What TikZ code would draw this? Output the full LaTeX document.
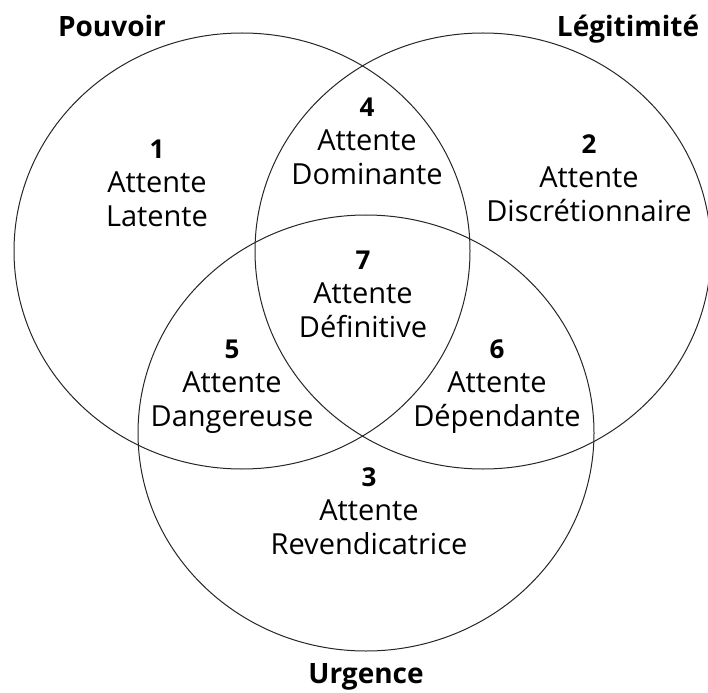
\documentclass[tikz,border=0pt]{standalone}
\usepackage{fontspec}
\setmainfont{Open Sans}
\usetikzlibrary{shapes.geometric}
\begin{document}
\begin{tikzpicture}[x=1pt,y=-1pt,
  set/.style={draw=black!85, line width=1pt, ellipse, inner sep=0pt,
    minimum width=456pt, minimum height=436pt},
  region/.style={anchor=base, align=center, inner sep=0pt,
    font=\fontsize{29}{34}\selectfont},
  setlabel/.style={anchor=base, inner sep=0pt,
    font=\fontsize{28}{34}\selectfont\bfseries},
]
\newcommand{\num}[1]{{\fontsize{26}{34}\selectfont\bfseries #1}}
\useasboundingbox (0,0) rectangle (708,692);
\node[set] (P) at (242,251) {};
\node[set] (L) at (483,251) {};
\node[set] (U) at (366,433) {};

\node[setlabel] (lp) at (112,37) {Pouvoir};
\node[setlabel] (ll) at (628,37) {Légitimité};
\node[setlabel] (lu) at (366,683) {Urgence};

% anchor = baseline of the last line
\node[region] (r1) at (157,227) {\num{1}\\Attente\\Latente};
\node[region] (r2) at (589,222) {\num{2}\\Attente\\Discrétionnaire};
\node[region] (r3) at (369,554) {\num{3}\\Attente\\Revendicatrice};
\node[region] (r4) at (367,185) {\num{4}\\Attente\\Dominante};
\node[region] (r5) at (232,426) {\num{5}\\Attente\\Dangereuse};
\node[region] (r6) at (497,426) {\num{6}\\Attente\\Dépendante};
\node[region] (r7) at (363,337) {\num{7}\\Attente\\Définitive};
\end{tikzpicture}
\end{document}
